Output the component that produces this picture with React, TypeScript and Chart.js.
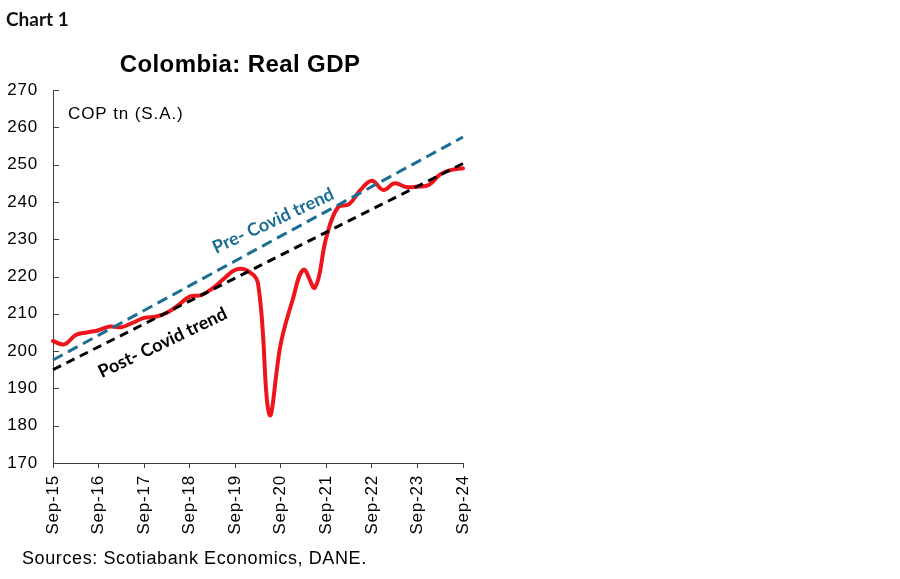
import React, { useEffect, useRef } from 'react';
import { Chart, registerables } from 'chart.js';

Chart.register(...registerables);

// ---- Data ----
const quarters = [
  'Sep-15', 'Dec-15', 'Mar-16', 'Jun-16', 'Sep-16', 'Dec-16', 'Mar-17', 'Jun-17',
  'Sep-17', 'Dec-17', 'Mar-18', 'Jun-18', 'Sep-18', 'Dec-18', 'Mar-19', 'Jun-19',
  'Sep-19', 'Dec-19', 'Mar-20', 'Jun-20', 'Sep-20', 'Dec-20', 'Mar-21', 'Jun-21',
  'Sep-21', 'Dec-21', 'Mar-22', 'Jun-22', 'Sep-22', 'Dec-22', 'Mar-23', 'Jun-23',
  'Sep-23', 'Dec-23', 'Mar-24', 'Jun-24', 'Sep-24',
];

const realGdp = [
  202.7, 201.8, 204.3, 205.0, 205.6, 206.6, 206.4, 207.6,
  208.9, 209.2, 210.3, 212.3, 214.6, 215.0, 216.8, 219.4,
  221.8, 221.7, 218.2, 183.0, 202.0, 213.3, 221.8, 217.0,
  230.5, 238.5, 239.4, 243.2, 245.7, 243.2, 245.0, 244.0,
  244.1, 244.5, 247.4, 248.6, 249.0,
];

// trend lines: start and end points only
const preCovidTrend = [
  { x: 'Sep-15', y: 197.6 },
  { x: 'Sep-24', y: 257.4 },
];
const postCovidTrend = [
  { x: 'Sep-15', y: 195.0 },
  { x: 'Sep-24', y: 250.3 },
];

const yMin = 170;
const yMax = 270;
const yStep = 10;

const chartLabel = 'Chart 1';
const titleText = 'Colombia: Real GDP';
const unitText = 'COP tn (S.A.)';
const sourceText = 'Sources: Scotiabank Economics, DANE.';
const preLabel = 'Pre- Covid trend';
const postLabel = 'Post- Covid trend';

const RED = '#ee141c';
const BLUE = '#1d6e93';
const AXIS = '#404040';
const SANS = "'Liberation Sans', Arial, sans-serif";
const BOLD_ALT = "Lato, 'Open Sans', sans-serif";

const textPlugin = {
  id: 'texts',
  beforeDraw(chart: any) {
    chart.ctx.letterSpacing = '0.8px';
  },
  afterDraw(chart: any) {
    const ctx = chart.ctx;
    const x = chart.scales.x;
    const y = chart.scales.y;
    const area = chart.chartArea;

    // inside tick marks on the y axis
    ctx.save();
    ctx.strokeStyle = AXIS;
    ctx.lineWidth = 1;
    for (let v = yMin; v <= yMax; v += yStep) {
      const py = Math.round(y.getPixelForValue(v)) + 0.5;
      ctx.beginPath();
      ctx.moveTo(area.left, py);
      ctx.lineTo(area.left + 6, py);
      ctx.stroke();
    }
    ctx.restore();

    const put = (
      text: string, px: number, py: number, font: string, color: string,
      align: CanvasTextAlign, spacing: string, angle = 0,
    ) => {
      ctx.save();
      ctx.letterSpacing = spacing;
      ctx.font = font;
      ctx.fillStyle = color;
      ctx.textAlign = align;
      ctx.textBaseline = 'alphabetic';
      ctx.translate(px, py);
      if (angle) ctx.rotate((angle * Math.PI) / 180);
      ctx.fillText(text, 0, 0);
      ctx.restore();
    };

    put(chartLabel, 6, 26, `bold 19px ${BOLD_ALT}`, '#111', 'left', '0px');
    put(titleText, 240, 72, `bold 24px ${SANS}`, '#000', 'center', '0.4px');
    put(unitText, area.left + 15, area.top + 29, `17px ${SANS}`, '#000', 'left', '0.9px');
    put(sourceText, 22, 564, `18px ${SANS}`, '#000', 'left', '0.6px');

    put(preLabel, x.getPixelForValue(19.55), y.getPixelForValue(233.5),
      `bold 18px ${BOLD_ALT}`, BLUE, 'center', '0px', -25);
    put(postLabel, x.getPixelForValue(9.85), y.getPixelForValue(200.8),
      `bold 18px ${BOLD_ALT}`, '#000', 'center', '0px', -25.5);
    ctx.letterSpacing = '0px';
  },
};

export default function App() {
  const canvasRef = useRef<HTMLCanvasElement | null>(null);

  useEffect(() => {
    const canvas = canvasRef.current;
    if (!canvas) return;
    const chart = new Chart(canvas, {
      type: 'line',
      data: {
        labels: quarters,
        datasets: [
          {
            label: 'Pre-Covid trend',
            data: preCovidTrend as any,
            borderColor: BLUE,
            borderWidth: 3,
            borderDash: [11, 6],
            pointRadius: 0,
            tension: 0,
            fill: false,
            order: 0,
          },
          {
            label: 'Post-Covid trend',
            data: postCovidTrend as any,
            borderColor: '#000',
            borderWidth: 3,
            borderDash: [9, 6],
            pointRadius: 0,
            tension: 0,
            fill: false,
            order: 1,
          },
          {
            label: 'Real GDP',
            data: realGdp,
            borderColor: RED,
            borderWidth: 4,
            borderCapStyle: 'round',
            borderJoinStyle: 'round',
            pointRadius: 0,
            tension: 0.4,
            fill: false,
            order: 2,
          },
        ],
      },
      options: {
        responsive: false,
        animation: false,
        devicePixelRatio: 1,
        layout: { padding: { left: 0, top: 90, right: 437, bottom: 0 } },
        plugins: {
          legend: { display: false },
          tooltip: { enabled: false },
          title: { display: false },
        },
        scales: {
          x: {
            type: 'category',
            offset: false,
            afterFit(scale: any) { scale.height = 116; },
            border: { display: true, color: AXIS, width: 1 },
            grid: {
              display: true,
              drawOnChartArea: false,
              drawTicks: true,
              tickLength: 5,
              tickWidth: 1,
              tickColor: (c: any) => (c.index % 4 === 0 ? AXIS : 'rgba(0,0,0,0)'),
            },
            ticks: {
              autoSkip: false,
              maxRotation: 90,
              minRotation: 90,
              padding: 7,
              color: '#000',
              font: { family: SANS, size: 17 },
              callback: (_v: any, i: number) => (i % 4 === 0 ? quarters[i] : ''),
            },
          },
          y: {
            min: yMin,
            max: yMax,
            afterFit(scale: any) { scale.width = 53; },
            border: { display: true, color: AXIS, width: 1 },
            grid: { display: false, drawTicks: false },
            ticks: {
              stepSize: yStep,
              padding: 15,
              color: '#000',
              font: { family: SANS, size: 17 },
            },
          },
        },
      },
      plugins: [textPlugin],
    } as any);
    return () => chart.destroy();
  }, []);

  return (
    <div style={{ position: 'fixed', left: 0, top: 0, width: 900, height: 579, background: '#fff' }}>
      <canvas ref={canvasRef} width={900} height={579} style={{ display: 'block' }} />
    </div>
  );
}
